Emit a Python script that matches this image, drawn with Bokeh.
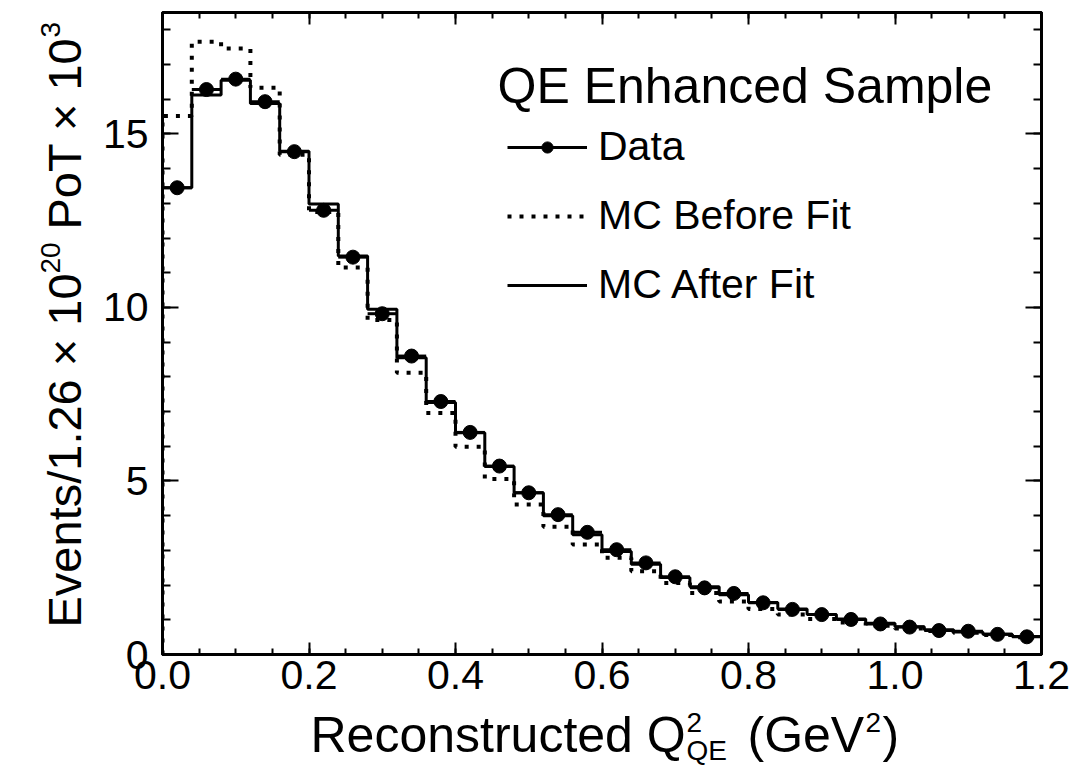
import math
from bokeh.plotting import figure
from bokeh.layouts import column, row
from bokeh.models import (Range1d, LinearAxis, SingleIntervalTicker, FixedTicker,
                          PrintfTickFormatter, CustomJSTickFormatter, Label, Legend,
                          LegendItem, ColumnDataSource)
from bokeh.embed import file_html
from bokeh.resources import INLINE

# ---------------- data ----------------
bin_edges = [0.00, 0.04, 0.08, 0.12, 0.16, 0.20, 0.24, 0.28, 0.32, 0.36, 0.40,
             0.44, 0.48, 0.52, 0.56, 0.60, 0.64, 0.68, 0.72, 0.76, 0.80,
             0.84, 0.88, 0.92, 0.96, 1.00, 1.04, 1.08, 1.12, 1.16, 1.20]

data_vals = [13.45, 16.28, 16.58, 15.93, 14.49, 12.80, 11.45, 9.82, 8.60, 7.29,
             6.40, 5.43, 4.66, 4.03, 3.52, 3.02, 2.64, 2.24, 1.92, 1.76,
             1.49, 1.30, 1.15, 1.01, 0.88, 0.79, 0.69, 0.67, 0.58, 0.51]

mc_before = [15.52, 17.66, 17.46, 16.33, 14.40, 12.75, 11.15, 9.64, 8.12, 6.96,
             5.99, 5.06, 4.32, 3.68, 3.17, 2.79, 2.40, 2.06, 1.77, 1.53,
             1.31, 1.15, 1.02, 0.92, 0.83, 0.75, 0.68, 0.63, 0.56, 0.50]

mc_after = [13.45, 16.12, 16.55, 15.88, 14.50, 12.98, 11.48, 9.95, 8.55, 7.26,
            6.39, 5.42, 4.66, 4.00, 3.45, 2.97, 2.60, 2.22, 1.95, 1.72,
            1.50, 1.31, 1.15, 1.02, 0.90, 0.80, 0.71, 0.65, 0.58, 0.52]

x_major_ticks = [0.0, 0.2, 0.4, 0.6, 0.8, 1.0, 1.2]
x_minor_ticks = [round(0.05 * i, 2) for i in range(25)]
y_tick_interval = 5

title_text = "QE Enhanced Sample"
legend_labels = ["Data", "MC Before Fit", "MC After Fit"]

FONT = "Liberation Sans"

# ---------------- page geometry ----------------
W, H = 1092, 767
YLAB_W = 95            # strip with the y-axis title
MAIN_H = 706           # main plot height; strip below holds the x-axis title
FRAME_L, FRAME_R, FRAME_T, FRAME_B = 162, 1041, 12, 654   # page pixels
MID = 0.3465           # baseline -> vertical middle of a text line, in em


def step_xy(edges, vals):
    xs = [edges[0]]
    ys = [0.0]
    for i, v in enumerate(vals):
        xs += [edges[i], edges[i + 1]]
        ys += [v, v]
    return xs, ys


# ---------------- main plot ----------------
p = figure(width=W - YLAB_W, height=MAIN_H, x_range=Range1d(0, 1.2), y_range=Range1d(0, 18.5),
           output_backend="svg", toolbar_location=None,
           x_axis_location=None, y_axis_location=None,
           min_border_left=FRAME_L - YLAB_W, min_border_right=W - FRAME_R,
           min_border_top=FRAME_T, min_border_bottom=MAIN_H - FRAME_B)
p.grid.visible = False
p.outline_line_color = "black"
p.outline_line_width = 3
p.background_fill_color = "white"
p.border_fill_color = "white"


def make_axis(ticker, formatter, major_len, minor_len, labels=True):
    ax = LinearAxis(ticker=ticker, formatter=formatter)
    ax.major_tick_in = major_len
    ax.major_tick_out = 0
    ax.minor_tick_in = minor_len
    ax.minor_tick_out = 0
    ax.axis_line_width = 3
    ax.axis_line_color = "black"
    ax.major_tick_line_width = 2
    ax.minor_tick_line_width = 2
    ax.major_tick_line_color = "black"
    ax.minor_tick_line_color = "black"
    if labels:
        ax.major_label_text_font = FONT
        ax.major_label_text_font_size = "41px"
        ax.major_label_text_color = "black"
    else:
        ax.major_label_text_font_size = "1px"
        ax.major_label_standoff = 0
    return ax


xfmt = PrintfTickFormatter(format="%.1f")
yfmt = PrintfTickFormatter(format="%d")
blank = CustomJSTickFormatter(code="return ''")

xb = make_axis(FixedTicker(ticks=x_major_ticks, minor_ticks=x_minor_ticks), xfmt, 12, 6)
xb.major_label_standoff = 6
xt = make_axis(FixedTicker(ticks=x_major_ticks, minor_ticks=x_minor_ticks), blank, 12, 6, labels=False)
yl = make_axis(SingleIntervalTicker(interval=y_tick_interval, num_minor_ticks=5), yfmt, 16, 8)
yl.major_label_standoff = 14
yr = make_axis(SingleIntervalTicker(interval=y_tick_interval, num_minor_ticks=5), blank, 16, 8, labels=False)

p.add_layout(xb, "below")
p.add_layout(xt, "above")
p.add_layout(yl, "left")
p.add_layout(yr, "right")

bx, by = step_xy(bin_edges, mc_before)
ax_, ay_ = step_xy(bin_edges, mc_after)

r_before = p.line(bx, by, line_color="black", line_width=4, line_dash="4 8")
r_after = p.line(ax_, ay_, line_color="black", line_width=3)

src = ColumnDataSource(dict(
    lo=bin_edges[:-1], hi=bin_edges[1:],
    xc=[(a + b) / 2 for a, b in zip(bin_edges[:-1], bin_edges[1:])],
    y=data_vals))
r_dseg = p.segment(x0="lo", x1="hi", y0="y", y1="y", source=src,
                   line_color="black", line_width=3)
r_dpt = p.scatter(x="xc", y="y", source=src, size=14, marker="circle",
                  fill_color="black", line_color="black")

legend = Legend(items=[LegendItem(label=legend_labels[0], renderers=[r_dseg, r_dpt]),
                       LegendItem(label=legend_labels[1], renderers=[r_before]),
                       LegendItem(label=legend_labels[2], renderers=[r_after])],
                location=(507 - FRAME_L, FRAME_B - 308),
                glyph_width=80, glyph_height=28, label_height=44,
                label_text_font=FONT, label_text_font_size="41px",
                label_text_color="black", label_standoff=11, spacing=22,
                padding=0, margin=0, border_line_alpha=0, background_fill_alpha=0)
p.add_layout(legend)


def lab(text, x, y, size, angle=0.0):
    return Label(x=x, y=y, x_units="screen", y_units="screen",
                 text=text, text_font=FONT, text_font_size=f"{size}px",
                 text_color="black", text_align="left", text_baseline="middle",
                 angle=angle)


# title inside the frame: page baseline (497, 103)
p.add_layout(lab(title_text, 497 - FRAME_L, FRAME_B - (103 - MID * 50), 50))


# ---------------- strips holding the axis titles ----------------
def strip(w, h, top=0, bottom=0):
    f = figure(width=w, height=h, x_range=Range1d(0, w), y_range=Range1d(0, h),
               output_backend="svg", toolbar_location=None,
               x_axis_location=None, y_axis_location=None, min_border=0)
    f.min_border_left = 0
    f.min_border_right = 0
    f.min_border_top = top
    f.min_border_bottom = bottom
    f.grid.visible = False
    f.outline_line_color = None
    f.background_fill_color = "white"
    f.border_fill_color = "white"
    return f


# y-axis title (rotated, reads bottom to top); baseline at page x = 80.
# Its frame matches the main frame vertically (page y 12 .. 654).
yt = strip(YLAB_W, MAIN_H, top=FRAME_T, bottom=MAIN_H - FRAME_B)
A = math.pi / 2
y_pieces = [  # text, baseline page x, start page y (text runs upwards), size
    ("Events/1.26 \u00d7 10", 80, 627, 47),
    ("20", 60, 273, 28),
    ("PoT \u00d7 10", 80, 229, 47),
    ("3", 60, 37, 28),
]
for t, bxl, ys, sz in y_pieces:
    yt.add_layout(lab(t, bxl - MID * sz, FRAME_B - ys, sz, A))

# x-axis title: Reconstructed Q^2_QE (GeV^2); baselines in page pixels
XT_H = H - MAIN_H
xtit = strip(W, XT_H)
x_pieces = [  # text, page x, page baseline y, size
    ("Reconstructed Q", 310, 752, 50),
    ("2", 686, 732, 28),
    ("QE", 686, 760, 28),
    ("(GeV", 747, 752, 50),
    ("2", 865, 732, 28),
    (")", 882, 752, 50),
]
for t, xp, yb, sz in x_pieces:
    xtit.add_layout(lab(t, xp, H - (yb - MID * sz), sz))

layout = column(row(yt, p, spacing=0), xtit, spacing=0)

open("out.html", "w").write(file_html(layout, INLINE))
